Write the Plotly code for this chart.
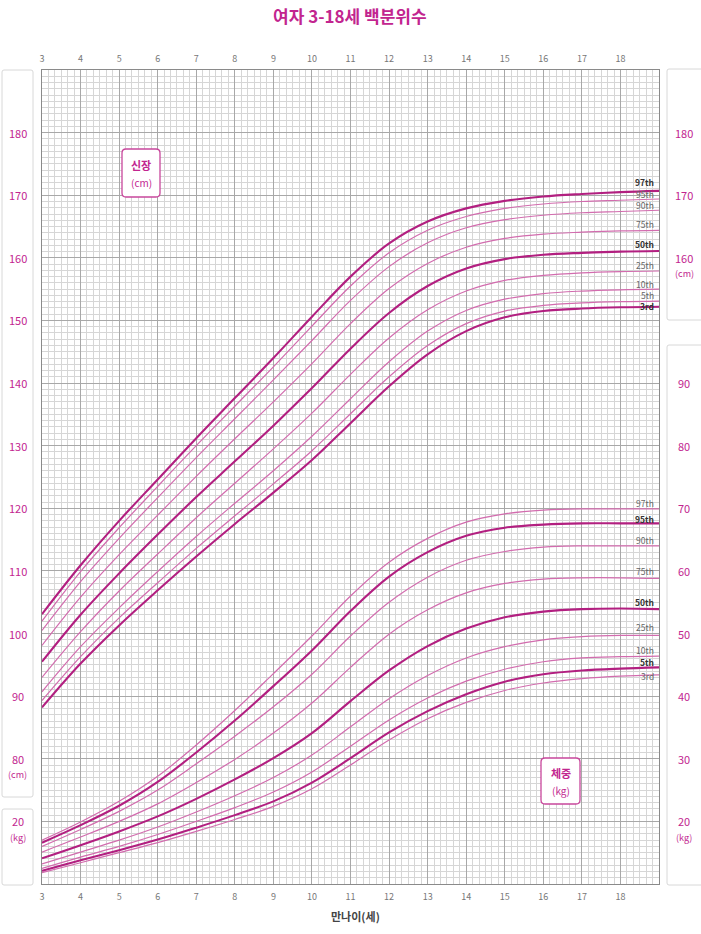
import plotly.graph_objects as go

# ---------------- data ----------------
ages = [3, 4, 5, 6, 7, 8, 9, 10, 11, 12, 13, 14, 15, 16, 17, 18, 19]
age_ticks = list(range(3, 19))
pct_names = ["3rd", "5th", "10th", "25th", "50th", "75th", "90th", "95th", "97th"]

# height (cm) percentiles
h_p3 = [88.2, 95.2, 101.3, 106.9, 112.3, 117.5, 122.5, 127.7, 133.6, 139.5, 144.6, 148.3, 150.5, 151.5, 151.9, 152.1, 152.2]
h_p5 = [89.3, 96.3, 102.5, 108.1, 113.6, 118.8, 123.9, 129.2, 135.1, 141.0, 146.0, 149.5, 151.5, 152.4, 152.8, 153.0, 153.1]
h_p10 = [90.7, 97.9, 104.1, 109.9, 115.5, 120.8, 126.0, 131.5, 137.5, 143.4, 148.3, 151.6, 153.4, 154.3, 154.7, 154.9, 155.0]
h_p25 = [93.0, 100.3, 106.8, 112.7, 118.5, 124.0, 129.5, 135.2, 141.4, 147.2, 151.7, 154.7, 156.4, 157.2, 157.6, 157.8, 157.9]
h_p50 = [95.5, 103.0, 109.6, 115.8, 121.8, 127.5, 133.2, 139.2, 145.5, 151.2, 155.5, 158.3, 159.8, 160.5, 160.8, 161.0, 161.1]
h_p75 = [98.1, 105.8, 112.6, 118.9, 125.1, 131.1, 137.0, 143.1, 149.5, 155.1, 159.1, 161.7, 163.1, 163.8, 164.1, 164.3, 164.4]
h_p90 = [100.5, 108.3, 115.2, 121.7, 128.1, 134.3, 140.5, 146.8, 153.2, 158.6, 162.4, 164.8, 166.1, 166.8, 167.2, 167.4, 167.6]
h_p95 = [102.0, 109.9, 116.9, 123.5, 130.0, 136.3, 142.6, 149.1, 155.5, 160.8, 164.4, 166.6, 167.9, 168.6, 169.0, 169.2, 169.4]
h_p97 = [103.1, 110.9, 118.0, 124.6, 131.2, 137.6, 144.0, 150.6, 157.0, 162.3, 165.8, 167.9, 169.1, 169.8, 170.2, 170.5, 170.7]

# weight (kg) percentiles
w_p3 = [11.8, 13.4, 15.0, 16.6, 18.4, 20.3, 22.4, 25.2, 29.0, 33.0, 36.4, 39.0, 40.9, 42.1, 42.8, 43.2, 43.4]
w_p5 = [12.1, 13.8, 15.4, 17.1, 19.0, 21.0, 23.2, 26.2, 30.1, 34.2, 37.6, 40.3, 42.3, 43.5, 44.1, 44.4, 44.6]
w_p10 = [12.5, 14.3, 16.0, 17.9, 20.0, 22.2, 24.7, 27.9, 32.0, 36.2, 39.7, 42.4, 44.3, 45.5, 46.1, 46.3, 46.4]
w_p25 = [13.2, 15.1, 17.0, 19.1, 21.5, 24.1, 27.0, 30.6, 35.1, 39.6, 43.3, 46.1, 47.9, 49.0, 49.5, 49.7, 49.7]
w_p50 = [14.1, 16.2, 18.4, 20.8, 23.6, 26.7, 30.1, 34.1, 39.2, 44.1, 48.0, 50.8, 52.6, 53.5, 53.9, 54.0, 53.9]
w_p75 = [15.1, 17.5, 20.0, 22.8, 26.2, 29.9, 34.1, 38.9, 44.6, 49.9, 53.8, 56.5, 58.0, 58.7, 58.9, 58.9, 58.8]
w_p90 = [16.0, 18.7, 21.6, 25.0, 29.2, 33.6, 38.3, 43.5, 49.6, 55.0, 59.0, 61.7, 63.1, 63.8, 64.0, 64.0, 64.0]
w_p95 = [16.6, 19.4, 22.5, 26.3, 31.0, 36.1, 41.6, 47.3, 53.6, 59.1, 63.0, 65.6, 66.9, 67.4, 67.6, 67.6, 67.6]
w_p97 = [17.0, 19.9, 23.2, 27.2, 32.2, 37.7, 43.6, 49.6, 56.0, 61.4, 65.2, 67.8, 69.1, 69.7, 69.9, 69.9, 69.9]

height_series = [h_p3, h_p5, h_p10, h_p25, h_p50, h_p75, h_p90, h_p95, h_p97]
weight_series = [w_p3, w_p5, w_p10, w_p25, w_p50, w_p75, w_p90, w_p95, w_p97]

left_height_ticks = [80, 90, 100, 110, 120, 130, 140, 150, 160, 170, 180]
right_height_ticks = [160, 170, 180]
left_weight_ticks = [20]
right_weight_ticks = [20, 30, 40, 50, 60, 70, 80, 90]

# ---------------- styles ----------------
W, H = 701, 934
ML, MR, MT, MB = 42, 42, 70, 50
PW, PH = W - ML - MR, H - MT - MB
MAG = "#c2258f"
THICK = "#b21f80"
THIN = "#d26cae"
FONT = "Noto Sans CJK KR, Noto Sans, sans-serif"
height_bold = {0, 4, 8}
weight_bold = {1, 4, 7}
height_label_shift = [1, 6, 5, 6, 7, 6, 5, 5, 9]
weight_label_shift = [-1, 5, 6, 8, 7, 7, 6, 4, 6]


def px(x):
    return (x - ML) / PW


def py(y):
    return (H - MB - y) / PH


def rrect(x0, y0, x1, y1, r):
    a, b, c, d = px(x0), px(x1), py(y0), py(y1)
    rx, ry = r / PW, r / PH
    return (f"M {a+rx},{c} L {b-rx},{c} Q {b},{c} {b},{c-ry} "
            f"L {b},{d+ry} Q {b},{d} {b-rx},{d} L {a+rx},{d} Q {a},{d} {a},{d+ry} "
            f"L {a},{c-ry} Q {a},{c} {a+rx},{c} Z")


fig = go.Figure()

for i, s in enumerate(height_series):
    bold = i in height_bold
    fig.add_trace(go.Scatter(x=ages, y=s, mode="lines", line=dict(color=THICK if bold else THIN,
                  width=2.1 if bold else 1.2, shape="spline", smoothing=1.0),
                  hoverinfo="skip", showlegend=False, xaxis="x", yaxis="y"))
for i, s in enumerate(weight_series):
    bold = i in weight_bold
    fig.add_trace(go.Scatter(x=ages, y=s, mode="lines", line=dict(color=THICK if bold else THIN,
                  width=2.1 if bold else 1.2, shape="spline", smoothing=1.0),
                  hoverinfo="skip", showlegend=False, xaxis="x", yaxis="y2"))
fig.add_trace(go.Scatter(x=[ages[0], ages[-1]], y=[100, 100], mode="none", hoverinfo="skip",
                         showlegend=False, xaxis="x2", yaxis="y"))


def note(x, y, text, size, color, xref="paper", yref="paper", **kw):
    d = dict(x=x, y=y, xref=xref, yref=yref, text=text, showarrow=False,
             xanchor="center", yanchor="middle", font=dict(size=size, color=color, family=FONT))
    d.update(kw)
    return d


ann = []
# percentile labels
for i, s in enumerate(height_series):
    b = i in height_bold
    ann.append(note(ages[-1], s[-1], f"<b>{pct_names[i]}</b>" if b else pct_names[i], 8.5,
                    "#333" if b else "#666", xref="x", yref="y", xanchor="right",
                    xshift=-3, yshift=height_label_shift[i]))
for i, s in enumerate(weight_series):
    b = i in weight_bold
    ann.append(note(ages[-1], s[-1], f"<b>{pct_names[i]}</b>" if b else pct_names[i], 8.5,
                    "#333" if b else "#666", xref="x", yref="y2", xanchor="right",
                    xshift=-3, yshift=weight_label_shift[i]))

# side scale labels
lx, rx = px(17.5), px(684)
for v in left_height_ticks:
    ann.append(note(lx, v, str(v), 11, MAG, yref="y"))
ann.append(note(lx, left_height_ticks[0], "(cm)", 9, MAG, yref="y", yshift=-16))
for v in left_weight_ticks:
    ann.append(note(lx, v, str(v), 11, MAG, yref="y2"))
ann.append(note(lx, left_weight_ticks[0], "(kg)", 9, MAG, yref="y2", yshift=-16))
for v in right_height_ticks:
    ann.append(note(rx, v, str(v), 11, MAG, yref="y"))
ann.append(note(rx, right_height_ticks[0], "(cm)", 9, MAG, yref="y", yshift=-16))
for v in right_weight_ticks:
    ann.append(note(rx, v, str(v), 11, MAG, yref="y2"))
ann.append(note(rx, right_weight_ticks[0], "(kg)", 9, MAG, yref="y2", yshift=-16))

# in-chart boxes text
ann.append(note(px(141), py(165), "<b>신장</b>", 11, MAG))
ann.append(note(px(141), py(182), "(cm)", 10, MAG))
ann.append(note(px(560.5), py(773), "<b>체중</b>", 11, MAG))
ann.append(note(px(560.5), py(790), "(kg)", 10, MAG))

# title and axis title
ann.append(note(px(350), py(16), "<b>여자 3-18세 백분위수</b>", 17, MAG))
ann.append(note(px(355), py(916), "<b>만나이(세)</b>", 11, "#444"))

shapes = []
grey_boxes = [(2, 70, 33, 797), (2, 809, 33, 885), (667, 69, 705, 320), (667, 345, 705, 885)]
for (a, b, c, d) in grey_boxes:
    shapes.append(dict(type="path", path=rrect(a, b, c, d, 2), xref="paper", yref="paper",
                       line=dict(color="#d8d8d8", width=1), fillcolor="white", layer="below"))
for (a, b, c, d) in [(122, 149, 160, 197), (541, 758, 580, 804)]:
    shapes.append(dict(type="path", path=rrect(a, b, c, d, 4), xref="paper", yref="paper",
                       line=dict(color="#c8479c", width=1.3), fillcolor="white", layer="above"))

fig.update_layout(
    width=W, height=H, margin=dict(l=ML, r=MR, t=MT, b=MB, autoexpand=False),
    paper_bgcolor="white", plot_bgcolor="white",
    font=dict(family=FONT),
    xaxis=dict(range=[3, 19], tickvals=age_ticks, showgrid=True, gridcolor="#a8a8a8", gridwidth=1,
               minor=dict(dtick=1 / 6, tick0=3, showgrid=True, gridcolor="#d6d6d6", gridwidth=1),
               showline=True, mirror=True, linecolor="#8a8a8a", linewidth=1, zeroline=False,
               ticks="", ticklabelstandoff=4, tickfont=dict(size=9, color="#777", family=FONT)),
    xaxis2=dict(range=[3, 19], tickvals=age_ticks, overlaying="x", side="top", showgrid=False,
                zeroline=False, ticks="", ticklabelstandoff=5,
                tickfont=dict(size=9, color="#777", family=FONT)),
    yaxis=dict(range=[60, 190], dtick=10, tick0=0, showgrid=True, gridcolor="#a8a8a8", gridwidth=1,
               minor=dict(dtick=1, showgrid=True, gridcolor="#d6d6d6", gridwidth=1),
               showline=True, mirror=True, linecolor="#8a8a8a", zeroline=False,
               showticklabels=False, ticks=""),
    yaxis2=dict(range=[10, 140], overlaying="y", visible=False),
    annotations=ann, shapes=shapes,
)

fig.write_html("out.html", config={"displayModeBar": False},
               post_script="document.body.style.margin='0';document.body.style.padding='0';")
